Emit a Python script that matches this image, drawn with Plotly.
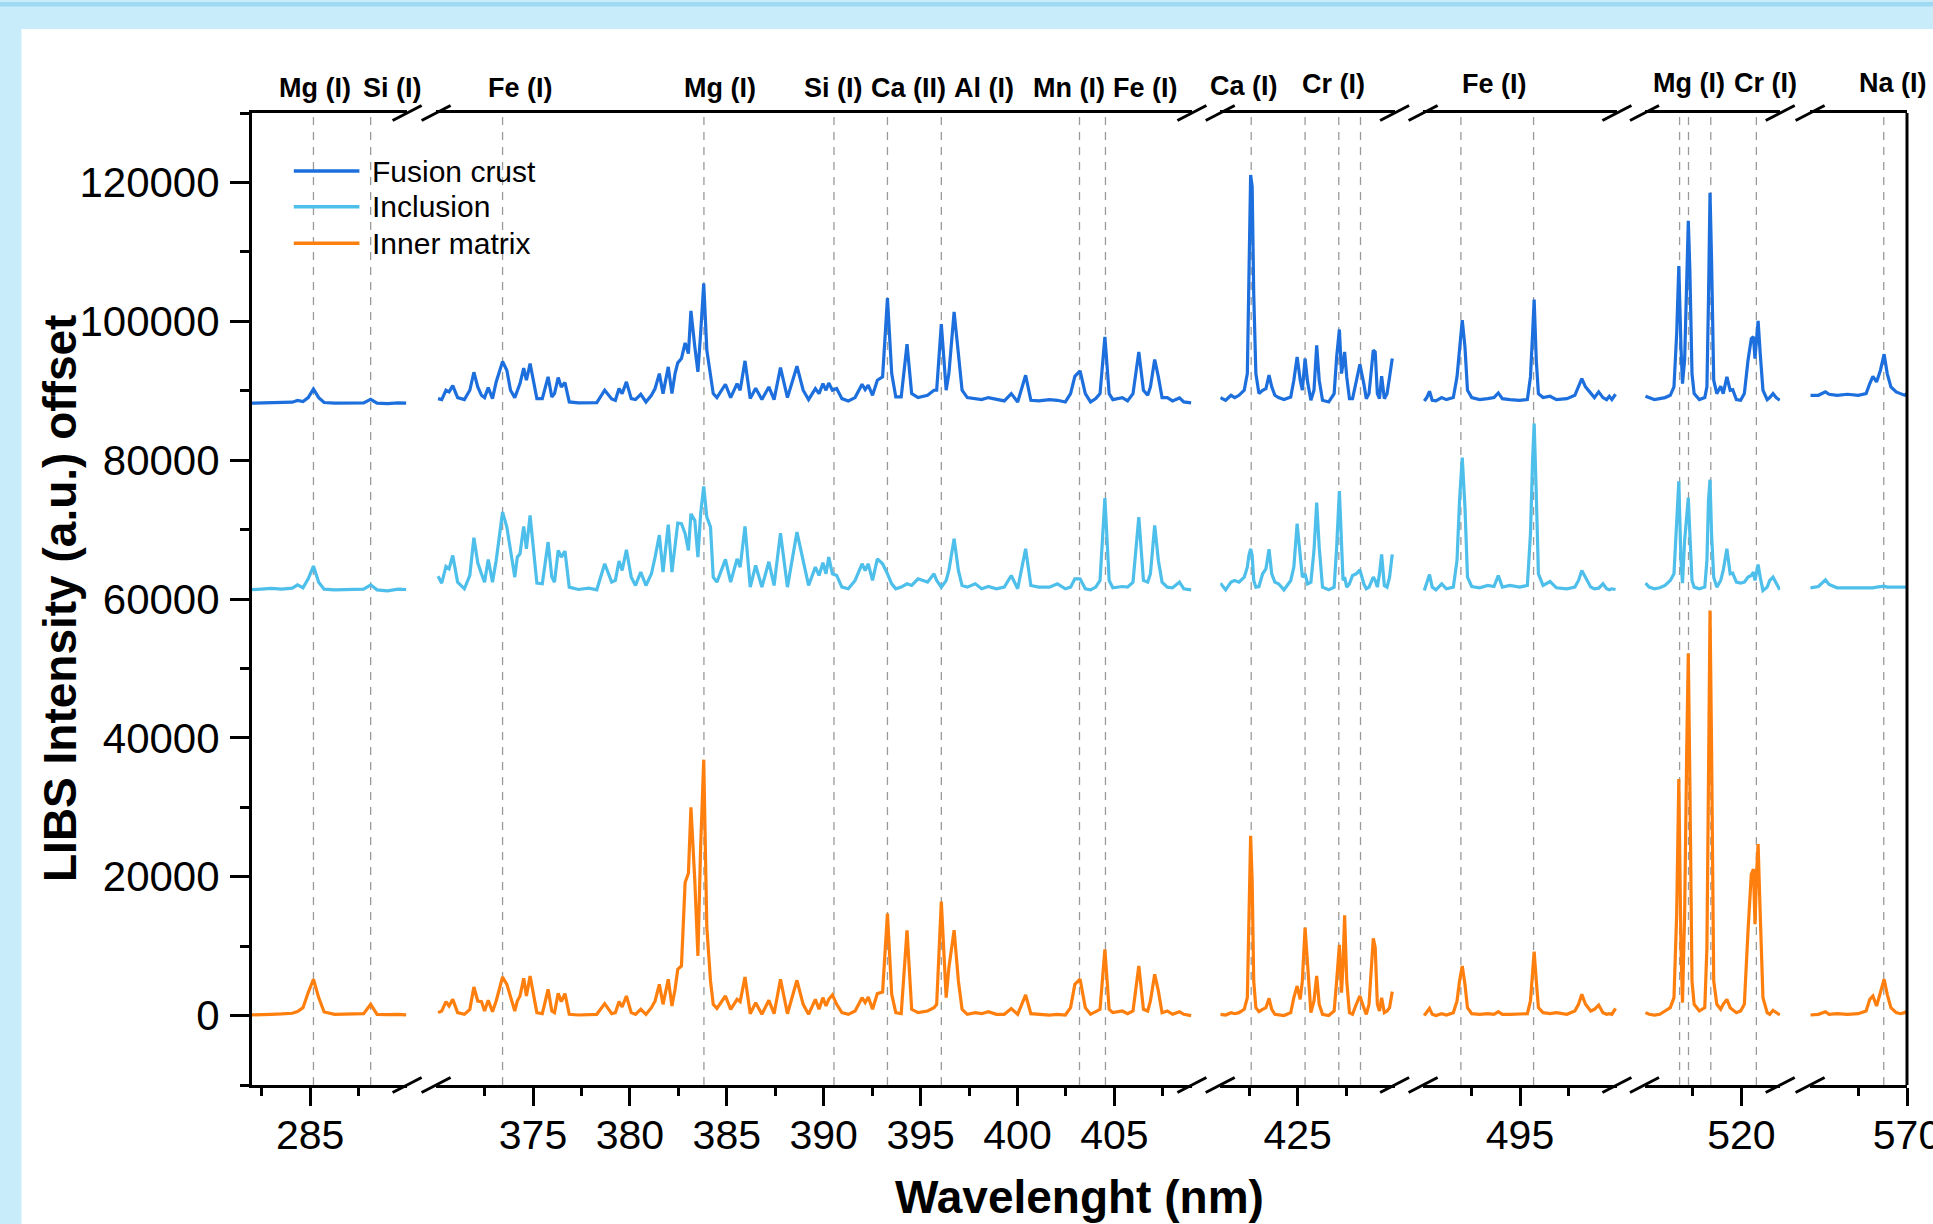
import plotly.graph_objects as go

# ---------------- data ----------------
series_names = ["Fusion crust", "Inclusion", "Inner matrix"]
series_colors = ["#1c6fdc", "#4dbfea", "#ff7f0e"]

# segment 1 (282-290 nm)
wl_seg1 = [281.90, 282.44, 282.99, 283.53, 284.08, 284.35, 284.63, 284.90, 285.17, 285.44,
           285.72, 286.26, 287.08, 287.76, 288.12, 288.45, 288.99, 289.54, 289.95]
fusion_seg1 = [88200, 88250, 88300, 88250, 88350, 88600, 88450, 89000, 90250, 89000,
               88300, 88200, 88250, 88250, 88750, 88200, 88150, 88250, 88200]
inclusion_seg1 = [61320, 61420, 61520, 61420, 61570, 62040, 61610, 62910, 64740, 62430,
                  61420, 61320, 61420, 61420, 62040, 61320, 61180, 61420, 61370]
inner_seg1 = [90, 180, 180, 230, 330, 570, 1140, 3310, 5230, 2590,
              520, 180, 180, 280, 1630, 180, 140, 180, 90]

# segment 2 (370-409 nm)
wl_seg2 = [370.10, 370.29, 370.51, 370.67, 370.86, 371.11, 371.46, 371.74, 371.95, 372.15,
           372.34, 372.50, 372.69, 372.91, 373.10, 373.43, 373.65, 373.84, 374.06, 374.19,
           374.33, 374.52, 374.66, 374.85, 375.01, 375.20, 375.48, 375.78, 375.97, 376.11,
           376.30, 376.46, 376.65, 376.87, 377.34, 377.88, 378.29, 378.70, 379.06, 379.25,
           379.44, 379.60, 379.82, 380.07, 380.29, 380.56, 380.83, 381.11, 381.30, 381.52,
           381.71, 381.98, 382.17, 382.33, 382.47, 382.66, 382.85, 383.02, 383.15, 383.35,
           383.51, 383.65, 383.81, 383.97, 384.16, 384.30, 384.49, 384.93, 385.20, 385.53,
           385.69, 385.94, 386.21, 386.49, 386.81, 387.17, 387.44, 387.77, 388.13, 388.62,
           388.94, 389.22, 389.57, 389.76, 389.96, 390.12, 390.26, 390.45, 390.67, 390.94,
           391.27, 391.62, 391.98, 392.14, 392.30, 392.52, 392.77, 393.04, 393.29, 393.51,
           393.72, 394.00, 394.30, 394.54, 394.87, 395.36, 395.69, 395.83, 396.07, 396.32,
           396.46, 396.73, 396.95, 397.14, 397.41, 397.82, 398.15, 398.50, 398.91, 399.32,
           399.68, 400.01, 400.42, 400.69, 401.10, 401.65, 402.06, 402.47, 402.74, 402.96,
           403.23,
           403.50, 403.77, 404.04, 404.26, 404.51, 404.73, 404.92, 405.41, 405.68, 405.96,
           406.26, 406.50, 406.72, 406.86, 407.08, 407.27, 407.46, 407.73, 408.00, 408.36,
           408.58, 408.96]
fusion_seg2 = [88860, 88720, 90070, 89830, 90740, 89010, 88720, 90070, 92660, 90550,
               89340, 89010, 90450, 88860, 91270, 94200, 92950, 90070, 89010, 90070,
               91030, 93240, 91510, 93910, 91510, 88860, 88860, 91990, 89100, 89580,
               91890, 90550, 91170, 88380, 88240, 88240, 88290, 90070, 88820, 88620,
               90310, 89580, 91270, 88860, 88720, 89490, 88380, 89340, 90310, 92470,
               89580, 93430, 89580, 92470, 94010, 94630, 96890, 95350, 101510, 96310,
               92710, 98240, 105450, 95830, 92470, 89580, 89010, 90930, 89010, 91030,
               90070, 94300, 88860, 90350, 88720, 90550, 88720, 93330, 89010, 93530,
               90070, 88720, 90310, 89580, 91030, 90070, 91120, 90070, 90310, 88860,
               88530, 89010, 90930, 90160, 90790, 89340, 91510, 91990, 103330, 92470,
               89100, 89100, 96700, 89580, 89010, 89340, 90070, 90070, 99580, 90070,
               92470, 101360, 95350, 90070, 89010, 88860, 88720, 89010, 88720, 88530,
               89580, 88380, 92230, 88620, 88530, 88720, 88620, 88380, 89580, 92080,
               92850,
               89580, 88380, 88860, 89580, 97760, 89580, 88720, 89010, 88530, 89580,
               95590, 90070, 89340, 90550, 94490, 91990, 89010, 89010, 88530, 88960,
               88380, 88240]
inclusion_seg2 = [63290, 62280, 64690, 64350, 66270, 62430, 61470, 63390, 68820, 65220,
                  63630, 62430, 65700, 62430, 65550, 72520, 70360, 67230, 63150, 66030,
                  66510, 70460, 67230, 72040, 67470, 62280, 62190, 68200, 63150, 62430,
                  66990, 66030, 66900, 61710, 61370, 61560, 61320, 65070, 62430, 62670,
                  65460, 64110, 67090, 63150, 61950, 63870, 61950, 63630, 66030, 69210,
                  63870, 70700, 63870, 67470, 70940, 70840, 69400, 66990, 72280, 71320,
                  66030, 72280, 76220, 71800, 70360, 63150, 62430, 65700, 62430, 65790,
                  64590, 70460, 61710, 64830, 61710, 65360, 61950, 69490, 61710, 69640,
                  65550, 61950, 64590, 63390, 65220, 63630, 66030, 63630, 63390, 61710,
                  61470, 62670, 65070, 64110, 65070, 62670, 65790, 65070, 63630, 62190,
                  61470, 61710, 62190, 61950, 62910, 62430, 63630, 62670, 61710, 62670,
                  64110, 68680, 64110, 61950, 61710, 62190, 61470, 61800, 61470, 61710,
                  63390, 61470, 67230, 61950, 61710, 61710, 62190, 61470, 61710, 62910,
                  62910,
                  61470, 61320, 61710, 62670, 74540, 62670, 61610, 61800, 61710, 62430,
                  71800, 62670, 62430, 63630, 70600, 65550, 62430, 61710, 61610, 62430,
                  61470, 61320]
inner_seg2 = [420, 660, 2010, 1380, 2340, 420, 180, 900, 4120, 2100,
              2010, 660, 2200, 560, 2100, 5560, 4500, 2580, 660, 2100,
              2820, 5370, 2820, 5710, 3060, 420, 270, 3780, 660, 420,
              3210, 2010, 3160, 180, 80, 180, 180, 1720, 270, 420,
              2010, 1240, 2820, 420, 180, 900, 180, 1140, 2100, 4500,
              1620, 5230, 1380, 3780, 6670, 7150, 19170, 20500, 29980, 19410,
              8590, 24210, 36860, 12680, 4990, 1620, 1040, 2820, 900, 2340,
              2010, 5560, 270, 1860, 180, 2200, 270, 5230, 270, 5080,
              1620, 180, 2340, 900, 2580, 1380, 2340, 2970, 1620, 420,
              180, 660, 2580, 1860, 2680, 900, 3160, 3400, 14700, 3060,
              420, 270, 12290, 900, 420, 660, 1140, 1620, 16430, 2580,
              6910, 12290, 4990, 900, 180, 420, 270, 560, 180, 180,
              1000, 180, 2970, 270, 180, 80, 180, 80, 1140, 4500,
              5230,
              1140, 180, 560, 900, 9550, 900, 420, 660, 270, 660,
              7150, 900, 660, 2100, 5950, 3540, 420, 660, 180, 560,
              180, 0]

# segment 3 (421-430 nm)
wl_seg3 = [421.01, 421.28, 421.56, 421.75, 421.97, 422.24, 422.40, 422.48, 422.57, 422.65,
           422.73, 422.84, 423.00, 423.19, 423.36, 423.52, 423.66, 423.82, 424.01, 424.29,
           424.64, 424.80, 424.97, 425.13, 425.24, 425.38, 425.51, 425.68, 425.84, 425.98,
           426.11, 426.28, 426.60, 426.88, 427.01, 427.15, 427.26, 427.34, 427.42, 427.53,
           427.67, 427.83, 428.02, 428.21, 428.41, 428.54, 428.68, 428.79, 428.90, 429.00,
           429.11, 429.22, 429.33, 429.47, 429.61, 429.74, 429.88]
fusion_seg3 = [89010, 88620, 89340, 89010, 89340, 90070, 92470, 105450, 121070, 119380,
               104000, 92470, 89580, 90070, 90310, 92230, 90550, 89340, 89010, 88720,
               89100, 91510, 94870, 91510, 90070, 94630, 91270, 88620, 90070, 96550,
               91510, 88620, 88380, 89580, 94870, 98820, 92470, 93910, 95590, 91990,
               88860, 88860, 91270, 93810, 91030, 88860, 89580, 93430, 95830, 95590,
               89580, 88860, 92080, 88860, 89580, 91990, 94630]
inclusion_seg3 = [62280, 61320, 62430, 62670, 62430, 63150, 64590, 66270, 67230, 66270,
                  62670, 61710, 61800, 63630, 64350, 67180, 63630, 62430, 62190, 61320,
                  62670, 64590, 70840, 66510, 63150, 63630, 62190, 62430, 66990, 73870,
                  67470, 61710, 61320, 61710, 67470, 75550, 67470, 62670, 63150, 61710,
                  62190, 63390, 63630, 64200, 62190, 61470, 61710, 62430, 63150, 62670,
                  61710, 63630, 66420, 61950, 61710, 63150, 66420]
inner_seg3 = [180, 80, 420, 270, 420, 900, 2580, 14600, 25900, 19410,
              4990, 1140, 560, 900, 1140, 2490, 900, 180, 80, 0,
              420, 2580, 4260, 2340, 4990, 12680, 7390, 420, 2100, 5710,
              1620, 180, 0, 660, 4990, 10180, 3300, 7390, 14450, 4990,
              420, 180, 1620, 2820, 1140, 180, 1620, 7390, 11140, 9790,
              1620, 660, 2580, 420, 660, 1140, 3450]

# segment 4 (490-500 nm)
wl_seg4 = [490.06, 490.19, 490.33, 490.47, 490.66, 490.96, 491.20, 491.56, 491.75, 491.88,
           492.02, 492.16, 492.29, 492.51, 492.92, 493.33, 493.66, 493.88, 494.09, 494.48,
           494.97, 495.38, 495.54, 495.65, 495.73, 495.84, 495.95, 496.19, 496.55, 496.88,
           497.42, 497.83, 498.02, 498.19, 498.38, 498.65, 498.84, 499.06, 499.28, 499.47,
           499.61, 499.74, 499.93]
fusion_seg4 = [88530, 89010, 89920, 88620, 88530, 89010, 88720, 89010, 91990, 96310,
               100160, 96310, 90070, 89010, 88720, 88860, 89010, 89680, 88860, 88720,
               88620, 88720, 91990, 98240, 103140, 94390, 89580, 89010, 89200, 88720,
               88860, 89340, 90550, 91750, 90550, 89580, 89010, 89830, 89010, 88720,
               89200, 88720, 89490]
inclusion_seg4 = [61220, 62430, 63530, 61710, 61320, 62190, 61470, 61710, 65550, 74200,
                  80360, 73240, 63150, 61800, 61610, 61950, 61800, 63390, 61710, 61950,
                  61710, 61950, 69400, 79970, 85260, 75170, 63630, 61950, 62520, 61610,
                  61470, 61710, 62670, 64110, 63150, 61710, 61470, 61560, 62190, 61470,
                  61320, 61470, 61370]
inner_seg4 = [0, 420, 1040, 180, 0, 270, 80, 420, 2100, 4990,
              7150, 4500, 1140, 270, 180, 270, 180, 560, 180, 180,
              180, 270, 2100, 6910, 9220, 4990, 1140, 420, 270, 420,
              180, 660, 1620, 3060, 1620, 660, 900, 1520, 420, 180,
              270, 180, 1040]

# segment 5 (515-522 nm)
wl_seg5 = [515.05, 515.24, 515.51, 515.79, 516.06, 516.33, 516.52, 516.66, 516.77, 516.88,
           516.96, 517.07, 517.18, 517.26, 517.34, 517.45, 517.56, 517.83, 518.11, 518.22,
           518.30, 518.38, 518.46, 518.57, 518.73, 518.93, 519.06, 519.25, 519.42, 519.55,
           519.74, 519.96, 520.15, 520.34, 520.51, 520.62, 520.70, 520.78, 520.86, 520.97,
           521.11, 521.33, 521.46, 521.63, 521.79, 521.98]
fusion_seg5 = [89200, 89010, 88720, 88860, 89010, 89340, 90550, 98240, 107950, 96310,
               91030, 94390, 108810, 114480, 107370, 92470, 89580, 88720, 89010, 90550,
               103040, 118520, 108810, 91510, 89580, 90640, 89580, 91990, 90070, 90160,
               88720, 88620, 89580, 94390, 97510, 97760, 94630, 98240, 100060, 95350,
               90070, 88720, 89010, 89580, 89010, 88620]
inclusion_seg5 = [62280, 61710, 61470, 61610, 61950, 62670, 63630, 70360, 76940, 65550,
                  62280, 68440, 72760, 74590, 69400, 62670, 61710, 61470, 61710, 65550,
                  74200, 77180, 69400, 63150, 61710, 62670, 64110, 67230, 63630, 63720,
                  62430, 62280, 62430, 63150, 63390, 63870, 62670, 64110, 64970, 63150,
                  61220, 61710, 62670, 63150, 62280, 61320]
inner_seg5 = [420, 180, 80, 180, 660, 1140, 2580, 14600, 34070, 9790,
              1860, 14600, 38630, 52190, 33830, 4990, 1620, 660, 1140, 9790,
              33830, 58340, 38630, 4990, 1620, 900, 1620, 2340, 1140, 900,
              420, 660, 1620, 12200, 20370, 21090, 13160, 20370, 24690, 14600,
              2580, 420, 180, 760, 420, 80]

# segment 6 (565-570 nm)
wl_seg6 = [565.02, 565.43, 565.79, 565.98, 566.39, 566.93, 567.48, 567.89, 568.08, 568.24,
           568.43, 568.63, 568.82, 568.98, 569.17, 569.44, 569.66, 569.88, 569.99]
fusion_seg6 = [89340, 89340, 89830, 89490, 89340, 89490, 89340, 89580, 91030, 92080,
               91270, 92950, 95260, 92470, 90550, 89830, 89580, 89340, 89580]
inclusion_seg6 = [61610, 61800, 62760, 62090, 61610, 61610, 61610, 61610, 61560, 61610,
                  61710, 61800, 61850, 61710, 61710, 61610, 61710, 61610, 61710]
inner_seg6 = [80, 180, 560, 180, 270, 180, 270, 660, 2340, 2820,
              1380, 3540, 5230, 3060, 1140, 420, 270, 420, 660]

# axis breaks: visible wavelength windows and ticks
seg_ranges = [[282, 290], [370, 409], [421, 430], [490, 500], [515, 522], [565, 570]]
major_ticks = [[285], [375, 380, 385, 390, 395, 400, 405], [425], [495], [520], [570]]
minor_ticks = [[282.5, 287.5], [372.5, 377.5, 382.5, 387.5, 392.5, 397.5, 402.5, 407.5],
               [422.5, 427.5], [492.5, 497.5], [517.5], [567.5]]

# emission line markers (nm) per segment
line_positions = [[285.17, 288.12],
                  [373.43, 383.82, 390.53, 393.29, 396.07, 403.2, 404.54],
                  [422.6, 425.38, 427.12, 428.24],
                  [491.95, 495.7],
                  [516.81, 517.27, 518.42, 520.77],
                  [568.8]]
element_labels = ["Mg (I)", "Si (I)", "Fe (I)", "Mg (I)", "Si (I)", "Ca (II)", "Al (I)",
                  "Mn (I)", "Fe (I)", "Ca (I)", "Cr (I)", "Fe (I)", "Mg (I)", "Cr (I)", "Na (I)"]

# ---------------- layout geometry ----------------
FIG_W, FIG_H = 1933, 1224
ML, MR, MT, MB = 252, 26, 113, 139
PW = FIG_W - ML - MR
PH = FIG_H - MT - MB


def px_x(X):
    return (X - ML) / PW


def px_y(Y):
    return (FIG_H - MB - Y) / PH


seg_domains = [[0.0, px_x(407.1)], [px_x(436.1), px_x(1191.9)], [px_x(1220.2), px_x(1394.6)],
               [px_x(1423.1), px_x(1616.9)], [px_x(1644.5), px_x(1780.2)], [px_x(1810.1), 1.0]]
label_px = [(315, 87.5), (392, 87.5), (520.5, 87.5), (719.5, 87.5), (833, 87.5), (908, 87.5),
            (984, 87.5), (1069, 87.5), (1145, 87.5), (1243.5, 86), (1333.7, 84), (1494.4, 84),
            (1689.4, 83), (1765, 83), (1893, 83)]

FONT = "Liberation Sans, Arial, Helvetica, sans-serif"

wls = [wl_seg1, wl_seg2, wl_seg3, wl_seg4, wl_seg5, wl_seg6]
fus = [fusion_seg1, fusion_seg2, fusion_seg3, fusion_seg4, fusion_seg5, fusion_seg6]
inc = [inclusion_seg1, inclusion_seg2, inclusion_seg3, inclusion_seg4, inclusion_seg5, inclusion_seg6]
inn = [inner_seg1, inner_seg2, inner_seg3, inner_seg4, inner_seg5, inner_seg6]

fig = go.Figure()
for i in range(6):
    xname = "x" if i == 0 else f"x{i+1}"
    for name, col, ys in zip(series_names, series_colors, [fus[i], inc[i], inn[i]]):
        fig.add_trace(go.Scatter(x=wls[i], y=ys, mode="lines", name=name,
                                 line=dict(color=col, width=3.2), xaxis=xname, yaxis="y",
                                 showlegend=False, hoverinfo="skip"))

shapes = []
# white panel and frame decorations
shapes.append(dict(type="rect", xref="paper", yref="paper", x0=px_x(21.5), x1=px_x(2100),
                   y0=px_y(1400), y1=px_y(29), fillcolor="white", line=dict(width=0), layer="below"))
shapes.append(dict(type="rect", xref="paper", yref="paper", x0=px_x(-10), x1=px_x(2100),
                   y0=px_y(6.5), y1=px_y(2), fillcolor="#9fdaf5", line=dict(width=0), layer="below"))

# dashed emission lines
for i in range(6):
    xname = "x" if i == 0 else f"x{i+1}"
    for xv in line_positions[i]:
        shapes.append(dict(type="line", xref=xname, yref="paper", x0=xv, x1=xv, y0=0, y1=1,
                           line=dict(color="#9a9a9a", width=1.3, dash="8px,7px"), layer="below"))

# right spine
shapes.append(dict(type="line", xref="paper", yref="paper", x0=1, x1=1, y0=0, y1=1,
                   line=dict(color="black", width=3)))

# break marks
dx, dy = 14.5 / PW, 7.5 / PH
for i in range(5):
    for e in (seg_domains[i][1], seg_domains[i + 1][0]):
        for yb in (0, 1):
            shapes.append(dict(type="line", xref="paper", yref="paper",
                               x0=e - dx, y0=yb - dy, x1=e + dx, y1=yb + dy,
                               line=dict(color="black", width=3)))

# legend (manual)
legend_rows = [171, 206.7, 243.3]
annotations = []
for name, col, ry in zip(series_names, series_colors, legend_rows):
    shapes.append(dict(type="line", xref="paper", yref="paper", x0=px_x(293.8), x1=px_x(359.4),
                       y0=px_y(ry), y1=px_y(ry), line=dict(color=col, width=3.5)))
    annotations.append(dict(text=name, xref="paper", yref="paper", x=px_x(369.6), y=px_y(ry),
                            xanchor="left", yanchor="middle", showarrow=False,
                            font=dict(family=FONT, size=30, color="black")))

# element labels above the frame
for txt, (lx, ly) in zip(element_labels, label_px):
    annotations.append(dict(text=txt, xref="paper", yref="paper", x=px_x(lx), y=px_y(ly),
                            xanchor="center", yanchor="middle", showarrow=False,
                            font=dict(family=FONT, size=27, color="black", weight="bold")))

# axis titles
annotations.append(dict(text="LIBS Intensity (a.u.) offset", xref="paper", yref="paper",
                        x=px_x(60), y=0.5, textangle=-90, xanchor="center", yanchor="middle",
                        showarrow=False, font=dict(family=FONT, size=46, color="black", weight="bold")))
annotations.append(dict(text="Wavelenght (nm)", xref="paper", yref="paper",
                        x=0.5, y=px_y(1197), xanchor="center", yanchor="middle",
                        showarrow=False, font=dict(family=FONT, size=46, color="black", weight="bold")))

layout = dict(
    width=FIG_W, height=FIG_H, autosize=False,
    margin=dict(l=ML, r=MR, t=MT, b=MB, pad=0, autoexpand=False),
    paper_bgcolor="#c9ecfb", plot_bgcolor="rgba(0,0,0,0)",
    showlegend=False,
    shapes=shapes, annotations=annotations,
    yaxis=dict(range=[-10000, 130000], anchor="x", showline=True, linewidth=3, linecolor="black",
               ticks="outside", ticklen=19, tickwidth=3, tickcolor="black", tick0=0, dtick=20000,
               tickformat="d", showgrid=False, zeroline=False, ticklabelstandoff=2,
               automargin=False,
               tickfont=dict(family=FONT, size=42, color="black"),
               minor=dict(ticks="outside", ticklen=9, tickwidth=3, tickcolor="black",
                          tick0=0, dtick=10000, showgrid=False)),
)
for i in range(6):
    key = "xaxis" if i == 0 else f"xaxis{i+1}"
    layout[key] = dict(domain=seg_domains[i], range=seg_ranges[i], anchor="y",
                       showline=True, linewidth=3, linecolor="black", mirror=True,
                       ticks="outside", ticklen=18, tickwidth=3, tickcolor="black",
                       tickmode="array", tickvals=major_ticks[i],
                       ticktext=[str(v) for v in major_ticks[i]],
                       showgrid=False, zeroline=False, ticklabelstandoff=-6,
                       ticklabeloverflow="allow", automargin=False,
                       tickfont=dict(family=FONT, size=41, color="black"),
                       minor=dict(tickmode="array", tickvals=minor_ticks[i], ticks="outside",
                                  ticklen=8, tickwidth=3, tickcolor="black", showgrid=False))
fig.update_layout(**layout)
fig.write_html("out.html",
               config={"responsive": False, "displayModeBar": False},
               post_script="document.body.style.margin='0px';document.body.style.overflow='hidden';")
